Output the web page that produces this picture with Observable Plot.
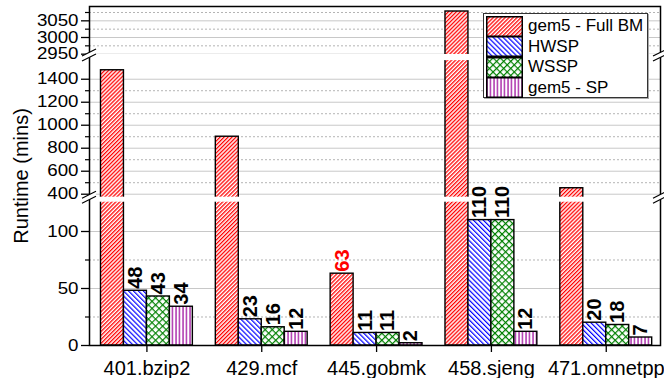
<!DOCTYPE html>
<html><head><meta charset="utf-8">
<script src="https://cdn.jsdelivr.net/npm/d3@7"></script>
<script src="https://cdn.jsdelivr.net/npm/@observablehq/plot@0.6"></script>
<style>
body{margin:0;background:#fff;font-family:"Liberation Sans",Arial,sans-serif;}
#wrap{position:relative;width:664px;height:378px;overflow:hidden;}
#legend{position:absolute;left:483px;top:13px;width:165px;height:85px;border:1px solid #333;background:#fff;box-shadow:1px 1px 0 #aaa;box-sizing:border-box;padding:2px 2px;}
.lrow{display:flex;align-items:center;height:20.5px;}
.lrow svg{display:block;margin-right:5px;}
.lrow span{font-size:17px;color:#000;line-height:20px;}
#ytitle{position:absolute;left:21px;top:176px;transform:translate(-50%,-50%) rotate(-90deg);font-size:20px;white-space:nowrap;color:#000;}
</style></head><body>
<svg width="0" height="0" style="position:absolute">
<defs>
<pattern id="pFull" patternUnits="userSpaceOnUse" width="2.8" height="10" patternTransform="rotate(45)">
<rect width="2.8" height="10" fill="#fff"/><line x1="0.65" y1="0" x2="0.65" y2="10" stroke="#ff0000" stroke-width="1.3"/>
</pattern>
<pattern id="pHW" patternUnits="userSpaceOnUse" width="3.5" height="10" patternTransform="rotate(-45)">
<rect width="3.5" height="10" fill="#fff"/><line x1="0.6" y1="0" x2="0.6" y2="10" stroke="#0000ff" stroke-width="1.2"/>
</pattern>
<pattern id="pWS" patternUnits="userSpaceOnUse" width="5" height="5" patternTransform="rotate(45)">
<rect width="5" height="5" fill="#fff"/><line x1="0.6" y1="0" x2="0.6" y2="5" stroke="#008000" stroke-width="1.2"/><line x1="0" y1="0.6" x2="5" y2="0.6" stroke="#008000" stroke-width="1.2"/>
</pattern>
<pattern id="pSP" patternUnits="userSpaceOnUse" width="3.5" height="10">
<rect width="3.5" height="10" fill="#fff"/><line x1="1" y1="0" x2="1" y2="10" stroke="#990099" stroke-width="1.2"/>
</pattern>
</defs></svg>
<div id="wrap"></div>
<script>
// ---- data ----
const benchmarks = ["401.bzip2", "429.mcf", "445.gobmk", "458.sjeng", "471.omnetpp"];
const series = ["gem5 - Full BM", "HWSP", "WSSP", "gem5 - SP"];
const fullBM = [1478, 900, 63, 3078, 452];
const hwsp   = [48, 23, 11, 110, 20];
const wssp   = [43, 16, 11, 110, 18];
const gem5sp = [34, 12, 2, 12, 7];
const majorTicks = [0, 50, 100, 400, 600, 800, 1000, 1200, 1400, 2950, 3000, 3050];
const minorTicks = [25, 75, 500, 700, 900, 1100, 1300, 2975, 3025, 3075];
const yTitle = "Runtime (mins)";

// ---- broken-axis scale config ----
const brkScale = [
  {from: 0, to: 125.7, p0: 0, p1: 143.3},
  {from: 374, to: 1562, p0: 148.3, p1: 284.9},
  {from: 2949, to: 3093, p0: 291, p1: 339}
];
function brk(v) {
  for (const s of brkScale) {
    if (v <= s.to) return v < s.from ? s.p0 : s.p0 + (v - s.from) * (s.p1 - s.p0) / (s.to - s.from);
  }
  return brkScale[brkScale.length - 1].p1;
}
const gaps = brkScale.slice(1).map((s, i) => ({y1: brkScale[i].p1, y2: s.p0}));

const patterns = ["url(#pFull)", "url(#pHW)", "url(#pWS)", "url(#pSP)"];
const valuesBySeries = [fullBM, hwsp, wssp, gem5sp];
const rows = benchmarks.flatMap((b, i) => series.map((s, j) => ({
  bench: b, series: s, value: valuesBySeries[j][i], key: b + "|" + s
})));
const xDomain = benchmarks.flatMap((b, i) => [...series.map(s => b + "|" + s), ...(i < benchmarks.length - 1 ? [b + "|gap"] : [])]);

const W = 664, H = 378, mL = 89, mR = 4, mT = 6, mB = 33;
const pOuter = 0.431;
const step = (W - mL - mR) / (xDomain.length + 2 * pOuter);
const fmtMajor = p => { const v = majorTicks.find(t => Math.abs(brk(t) - p) < 1e-6); return v === undefined ? "" : String(v); };

const plot = Plot.plot({
  width: W, height: H, marginLeft: mL, marginRight: mR, marginTop: mT, marginBottom: mB,
  style: {fontFamily: "'Liberation Sans', Arial, sans-serif", background: "#fff"},
  x: {type: "band", domain: xDomain, paddingInner: 0, paddingOuter: pOuter, align: 0.58, round: false, label: null},
  y: {type: "linear", domain: [0, 339], label: null},
  color: {type: "ordinal", domain: series, range: patterns},
  marks: [
    Plot.ruleY(majorTicks.filter(t => t > 0), {y: d => brk(d), stroke: "#c8c8c8", strokeWidth: 1}),
    Plot.ruleY(minorTicks, {y: d => brk(d), stroke: "#b4b4b4", strokeWidth: 1, strokeDasharray: "2,2"}),
    Plot.barY(rows, {x: "key", y1: 0, y2: d => brk(d.value), fill: "series", stroke: "#000", strokeWidth: 1.4}),
    Plot.rect(gaps, {y1: "y1", y2: "y2", fill: "#fff"}),
    Plot.text(rows.filter(d => d.series !== series[0]), {
      x: "key", y: d => brk(d.value), text: d => String(d.value), rotate: -90, textAnchor: "start",
      dy: -2, fontSize: 20, fontWeight: "bold", fill: "#000"
    }),
    Plot.text(rows.filter(d => d.series === series[0] && d.bench === "445.gobmk"), {
      x: "key", y: d => brk(d.value), text: d => String(d.value), rotate: -90, textAnchor: "start",
      dy: -2, fontSize: 20, fontWeight: "bold", fill: "#ff0000"
    }),
    Plot.frame({stroke: "#000", strokeWidth: 1.5}),
    Plot.axisY({ticks: majorTicks.map(brk), tickFormat: fmtMajor, tickSize: 8, tickPadding: 3, fontSize: 16, strokeWidth: 1.3, label: null}),
    Plot.axisY({ticks: minorTicks.map(brk), tickFormat: () => "", tickSize: 4, tickPadding: 3, strokeWidth: 1.2, label: null}),
    Plot.axisX({ticks: benchmarks.map(b => b + "|" + series[2]), tickFormat: k => k.split("|")[0], dx: -step / 2,
      tickSize: 7, tickPadding: 8, fontSize: 20, strokeWidth: 1.3, label: null})
  ]
});
document.getElementById("wrap").appendChild(plot);

// widen y tick labels (reference glyphs are wide but short)
d3.select(plot).selectAll('g[aria-label="y-axis tick label"] text').each(function() {
  const len = this.getComputedTextLength();
  if (len > 0) { this.setAttribute("textLength", (len * 1.17).toFixed(2)); this.setAttribute("lengthAdjust", "spacingAndGlyphs"); }
});

// axis break marks
const ys = plot.scale("y");
const svg = d3.select(plot);
for (const g of gaps) {
  const yc = ys.apply((g.y1 + g.y2) / 2);
  for (const x of [mL, W - mR]) {
    const grp = svg.append("g");
    grp.append("path").attr("d", `M${x-7},${yc+4}L${x+7},${yc-3}L${x+7},${yc-8}L${x-7},${yc-1}Z`).attr("fill", "#fff");
    grp.append("line").attr("x1", x - 7).attr("y1", yc + 4).attr("x2", x + 7).attr("y2", yc - 3).attr("stroke", "#000").attr("stroke-width", 1.2);
    grp.append("line").attr("x1", x - 7).attr("y1", yc - 1).attr("x2", x + 7).attr("y2", yc - 8).attr("stroke", "#000").attr("stroke-width", 1.2);
  }
}

// y title
d3.select("#wrap").append("div").attr("id", "ytitle").text(yTitle);

// legend
const leg = d3.select("#wrap").append("div").attr("id", "legend");
series.forEach((s, i) => {
  const r = leg.append("div").attr("class", "lrow");
  const sv = r.append("svg").attr("width", 37).attr("height", 21);
  sv.append("rect").attr("x", 0.75).attr("y", 0.75).attr("width", 35.5).attr("height", 19.5)
    .attr("fill", patterns[i]).attr("stroke", "#000").attr("stroke-width", 1.5);
  r.append("span").text(s);
});
</script>
</body></html>
